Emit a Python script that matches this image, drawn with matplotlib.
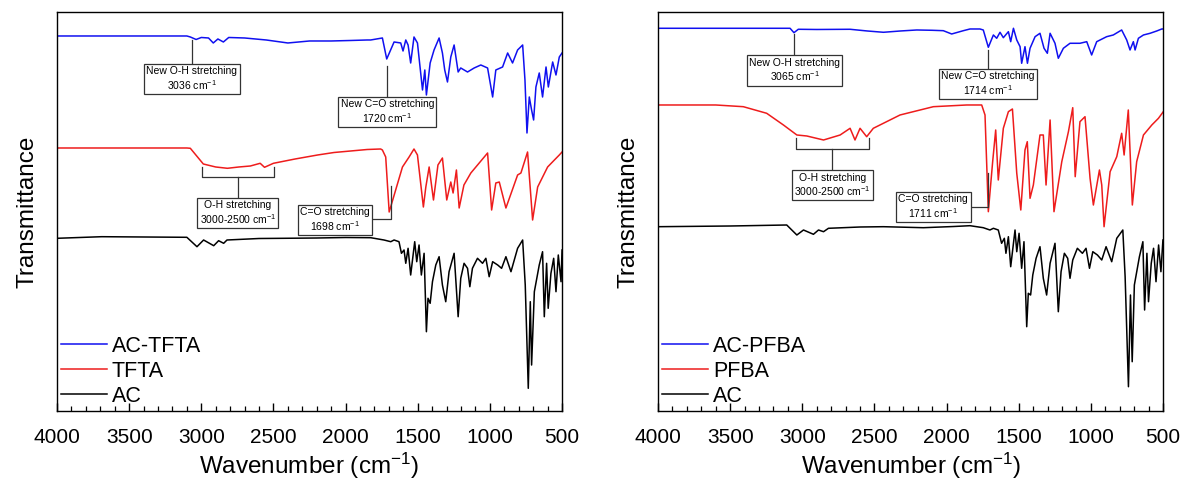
import matplotlib
matplotlib.use("Agg")
import matplotlib.pyplot as plt
from matplotlib.ticker import MultipleLocator

plt.rcParams["font.family"] = ["Liberation Sans", "DejaVu Sans"]
plt.rcParams["mathtext.fontset"] = "custom"
plt.rcParams["mathtext.rm"] = "Liberation Sans"
plt.rcParams["mathtext.default"] = "regular"

# ---- left panel: AC / TFTA / AC-TFTA (stacked, arbitrary units) ----
ac_tfta_w = [4000, 3500, 3100, 3076, 3036, 3000, 2950, 2917, 2885, 2847, 2810, 2700, 2550, 2400,
             2250, 2100, 1965, 1850, 1826, 1745, 1715, 1664, 1618, 1602, 1583, 1567, 1549, 1526,
             1502, 1467, 1451, 1440, 1414, 1387, 1352, 1329, 1313, 1294, 1271, 1248, 1220, 1202,
             1155, 1109, 1063, 1016, 981, 959, 912, 877, 843, 808, 773, 757, 743, 727, 711, 697,
             681, 658, 635, 611, 595, 565, 542, 519, 500]
ac_tfta_t = [375, 375, 375, 374, 371.5, 373.5, 373, 368, 372, 369, 373.5, 373, 371, 368,
             370, 370, 370.5, 371, 371, 373, 352, 369, 368, 360, 371, 366, 348, 374,
             368, 321, 341, 316, 348, 361, 373, 358, 341, 329, 354, 366, 339, 343,
             339, 343, 346, 343, 314, 341, 344, 358, 348, 361, 366, 331, 278, 314, 301, 291,
             324, 338, 314, 344, 324, 349, 336, 354, 358]

tfta_w = [4000, 3500, 3100, 3076, 2986, 2900, 2819, 2740, 2660, 2592, 2562, 2500, 2350, 2194,
          2080, 1965, 1850, 1757, 1745, 1722, 1698, 1653, 1606, 1560, 1526, 1502, 1461, 1444,
          1421, 1391, 1360, 1329, 1299, 1271, 1255, 1232, 1213, 1180, 1132, 1016, 988, 959,
          935, 889, 808, 785, 739, 704, 669, 600, 553, 519, 500]
tfta_t = [263, 263, 263, 262.7, 247, 244, 242.7, 244, 245, 247.7, 243.7, 247.7, 252, 256,
          258.5, 260, 261.5, 262, 261, 254, 199, 221, 244, 254, 262, 256, 204, 224,
          244, 211, 246, 253, 211, 229, 218, 241, 203, 226, 238, 258, 201, 228,
          229, 203, 236, 238, 259, 191, 224, 244, 251, 256, 259]

ac_w = [4000, 3690, 3100, 3030, 2984, 2914, 2880, 2845, 2822, 2600, 2428, 2200, 2000, 1826,
        1734, 1687, 1664, 1630, 1613, 1595, 1583, 1567, 1549, 1521, 1507, 1491, 1475, 1456,
        1440, 1429, 1414, 1398, 1375, 1352, 1329, 1306, 1283, 1248, 1220, 1202, 1179, 1155,
        1139, 1121, 1086, 1051, 1028, 1005, 981, 946, 919, 889, 854, 808, 773, 755, 734,
        720, 711, 692, 658, 635, 623, 607, 596, 577, 558, 542, 526, 507, 500]
ac_t = [172.7, 174.3, 173.7, 164.3, 171, 165.3, 170.3, 167.7, 171, 172.5, 172.7, 173, 173.5, 173.3,
        171, 169.3, 171, 169.3, 157.7, 161, 147.7, 162.7, 136, 169.3, 149.3, 166, 136, 157.7,
        79.3, 112.7, 107.7, 129.3, 146, 154.3, 126, 109.3, 139.3, 157.7, 94.3, 132.7, 147.7, 142.7,
        124.3, 142.7, 152.7, 147.7, 152.7, 134.3, 149.3, 146, 142.7, 154.3, 139.3, 162.7, 171, 126, 22.7,
        109.3, 46, 119.3, 146, 159.3, 94.3, 147.7, 102.7, 137.7, 152.7, 119.3, 156, 129.3, 161]

# ---- right panel: AC / PFBA / AC-PFBA ----
ac_pfba_w = [4000, 3500, 3085, 3058, 3028, 2900, 2669, 2550, 2438, 2320, 2207, 2100, 2023, 1965,
             1884, 1838, 1769, 1746, 1711, 1676, 1653, 1630, 1607, 1572, 1556, 1537, 1514, 1491,
             1480, 1457, 1440, 1422, 1387, 1353, 1325, 1302, 1283, 1249, 1226, 1191, 1145, 1076,
             1029, 995, 960, 891, 845, 787, 752, 729, 706, 694, 671, 636, 590, 544, 509, 500]
ac_pfba_t = [382.7, 382.7, 382.7, 378.3, 381.7, 381.5, 381.7, 380, 378.7, 380, 381, 380.7, 380.3, 377,
             380.3, 382, 382, 381, 363.7, 376, 372.7, 378.7, 373.3, 379.3, 369.3, 382.7, 371, 364.3,
             347.7, 364.3, 347.7, 362.7, 374.3, 377.7, 362.7, 357.7, 377.7, 367.7, 352.7, 362.7, 367.7, 367.7,
             369.3, 356, 369.3, 374.3, 376, 381, 371, 361, 369.3, 361, 372.7, 376, 377.7, 380, 382, 382]

pfba_w = [4000, 3600, 3409, 3247, 3131, 3038, 2969, 2853, 2738, 2669, 2635, 2600, 2554, 2508,
          2323, 2092, 1861, 1757, 1734, 1711, 1681, 1660, 1642, 1607, 1572, 1544, 1514, 1486,
          1457, 1441, 1422, 1399, 1353, 1330, 1311, 1283, 1256, 1202, 1156, 1126, 1109, 1076,
          1041, 1006, 983, 941, 925, 909, 867, 821, 787, 770, 741, 713, 683, 636, 578, 532, 500]
pfba_t = [306, 306, 304.3, 297.7, 286, 276, 275, 271, 276, 282.7, 271, 282.7, 274.3, 282.7,
          296, 304.3, 306, 306, 296, 199.3, 249.3, 281, 231, 282.7, 299.3, 302, 237.7, 201,
          261, 269.3, 212.7, 226, 276, 276, 226, 291, 199.3, 249.3, 279.3, 303.3, 234.3, 289.3,
          294.3, 232.7, 206, 241, 226, 184.3, 239.3, 254.3, 277.7, 256, 301, 206, 249.3, 276, 286, 292.7, 299]

ac2_w = [4000, 3500, 3108, 3038, 2992, 2923, 2888, 2853, 2819, 2600, 2438, 2161, 1950, 1838,
         1746, 1700, 1676, 1642, 1619, 1600, 1589, 1572, 1556, 1526, 1514, 1498, 1480, 1464,
         1445, 1434, 1418, 1403, 1380, 1353, 1330, 1307, 1283, 1249, 1226, 1207, 1184, 1161,
         1145, 1126, 1094, 1059, 1034, 1010, 987, 955, 925, 895, 856, 821, 779, 763, 740,
         726, 714, 699, 664, 640, 628, 612, 601, 582, 566, 549, 531, 515, 501]
ac2_t = [184.3, 185, 186, 176, 181, 176.7, 181, 179.3, 182.7, 184, 184.3, 183.3, 184.5, 185.3,
         183.3, 181, 182.7, 181, 167.7, 172.7, 157.7, 174.3, 144.3, 181, 159.3, 177.7, 142.7, 169.3,
         84.3, 117.7, 116, 136, 152.7, 164.3, 132.7, 116, 147.7, 167.7, 99.3, 139.3, 157.7, 152.7,
         132.7, 151, 162.7, 157.7, 162.7, 142.7, 159.3, 156, 151, 164.3, 149.3, 172.7, 181, 134.3, 24.3,
         116, 49.3, 126, 154.3, 169.3, 101, 157.7, 109.3, 147.7, 162.7, 129.3, 166, 139.3, 171]

BLUE, RED, BLACK = "#1010F0", "#EE1C1C", "#000000"
FS_TICK, FS_LABEL, FS_BOX = 15, 17.5, 7.5


def box(ax, x, y, txt):
    ax.text(x, y, txt, ha="center", va="center", fontsize=FS_BOX, linespacing=1.15,
            bbox=dict(boxstyle="square,pad=0.22", fc="white", ec="#333333", lw=0.9), zorder=5)


def line(ax, xs, ys):
    ax.plot(xs, ys, color="#333333", lw=0.9, zorder=4)


def panel(ax, top, mid, low, labels):
    for (w, t), c, lab in zip([top, mid, low], [BLUE, RED, BLACK], labels):
        ax.plot(w, t, color=c, lw=1.1, label=lab)
    ax.set_xlim(4000, 500)
    ax.set_ylim(0, 399)
    ax.set_yticks([])
    ax.xaxis.set_major_locator(MultipleLocator(500))
    ax.xaxis.set_minor_locator(MultipleLocator(100))
    ax.tick_params(axis="x", which="major", direction="in", length=6, width=1,
                   labelsize=FS_TICK, pad=12)
    ax.tick_params(axis="x", which="minor", direction="in", length=3.5, width=0.9)
    for s in ax.spines.values():
        s.set_linewidth(1)
    ax.set_xlabel("Wavenumber (cm$^{-1}$)", fontsize=FS_LABEL, labelpad=3)
    ax.set_ylabel("Transmittance", fontsize=FS_LABEL, labelpad=13)
    ax.legend(loc="lower left", frameon=False, fontsize=15.5, handlelength=2.1,
              handletextpad=0.25, labelspacing=0.18, borderaxespad=0.05, borderpad=0.15)


fig = plt.figure(figsize=(11.85, 4.93), dpi=100)
ax1 = fig.add_axes([0.0481, 0.1663, 0.4262, 0.8094])
ax2 = fig.add_axes([0.5553, 0.1663, 0.4262, 0.8094])

panel(ax1, (ac_tfta_w, ac_tfta_t), (tfta_w, tfta_t), (ac_w, ac_t), ["AC-TFTA", "TFTA", "AC"])
panel(ax2, (ac_pfba_w, ac_pfba_t), (pfba_w, pfba_t), (ac2_w, ac2_t), ["AC-PFBA", "PFBA", "AC"])

# left annotations
line(ax1, [3065, 3065], [371, 345])
box(ax1, 3065, 332, "New O-H stretching\n3036 cm$^{-1}$")
line(ax1, [1711, 1711], [345, 312])
box(ax1, 1711, 299, "New C=O stretching\n1720 cm$^{-1}$")
line(ax1, [2995, 2995, 2493, 2493], [244.3, 233.7, 233.7, 244.3])
line(ax1, [2744, 2744], [233.7, 211])
box(ax1, 2747, 198, "O-H stretching\n3000-2500 cm$^{-1}$")
line(ax1, [1815, 1688, 1688], [191.7, 191.7, 225])
box(ax1, 2073, 191, "C=O stretching\n1698 cm$^{-1}$")

# right annotations
line(ax2, [3057, 3057], [376.7, 353.3])
box(ax2, 3054, 340.5, "New O-H stretching\n3065 cm$^{-1}$")
line(ax2, [1715, 1715], [361, 340])
box(ax2, 1715, 327, "New C=O stretching\n1714 cm$^{-1}$")
line(ax2, [3045, 3045, 2537, 2537], [272.7, 261.7, 261.7, 272.7])
line(ax2, [2792, 2792], [261.7, 238.7])
box(ax2, 2792, 225.7, "O-H stretching\n3000-2500 cm$^{-1}$")
line(ax2, [1838, 1711, 1711], [204.3, 204.3, 237.7])
box(ax2, 2092, 204, "C=O stretching\n1711 cm$^{-1}$")

fig.savefig("out.png", dpi=100)
